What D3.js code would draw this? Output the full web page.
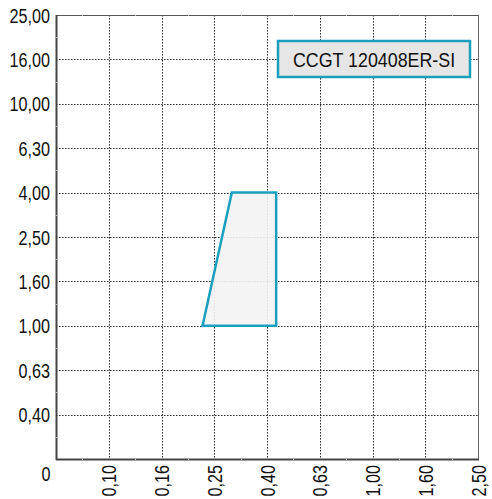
<!DOCTYPE html>
<html>
<head>
<meta charset="utf-8">
<script src="https://cdn.jsdelivr.net/npm/d3@7"></script>
<style>
  html, body { margin: 0; padding: 0; background: #fff; }
  svg { display: block; }
  text { font-family: "Liberation Sans", Arial, sans-serif; fill: #111; }
</style>
</head>
<body>
<svg id="chart" width="492" height="499"></svg>
<script>
// Feed rate f (mm/rev) grid values along the horizontal axis
const feedTicks = [0, 0.10, 0.16, 0.25, 0.40, 0.63, 1.00, 1.60, 2.50];
const feedLabels = ["0", "0,10", "0,16", "0,25", "0,40", "0,63", "1,00", "1,60", "2,50"];
// Depth of cut ap (mm) grid values along the vertical axis
const depthTicks = [0, 0.40, 0.63, 1.00, 1.60, 2.50, 4.00, 6.30, 10.00, 16.00, 25.00];
const depthLabels = ["0", "0,40", "0,63", "1,00", "1,60", "2,50", "4,00", "6,30", "10,00", "16,00", "25,00"];
// Application area of the chipbreaker (corner points)
const areaFeed = [0.23, 0.30, 0.44, 0.44];
const areaDepth = [1.00, 4.00, 4.00, 1.00];
const insertName = "CCGT 120408ER-SI";

const W = 492, H = 499;
const margin = { left: 56, right: 14, top: 15, bottom: 40 };
const x0 = margin.left, x1 = W - margin.right;
const y0 = H - margin.bottom, y1 = margin.top;

const svg = d3.select("#chart");
const teal = "#1aa0bd";
const FS = 21;        // label font size
const NARROW = 0.77;  // horizontal squeeze for a condensed look

// Piecewise scales: every grid value sits at an equal step
const x = d3.scaleLinear()
  .domain(feedTicks)
  .range(feedTicks.map((d, i) => x0 + (x1 - x0) * i / (feedTicks.length - 1)));
const y = d3.scaleLinear()
  .domain(depthTicks)
  .range(depthTicks.map((d, i) => y0 - (y0 - y1) * i / (depthTicks.length - 1)));

// Dotted grid
const grid = svg.append("g").attr("stroke", "#333").attr("stroke-width", 1)
  .attr("stroke-dasharray", "1.6,1.4").attr("fill", "none");
grid.selectAll("line.v").data(feedTicks.slice(1, -1)).join("line")
  .attr("x1", d => Math.round(x(d)) + 0.5).attr("x2", d => Math.round(x(d)) + 0.5)
  .attr("y1", y1).attr("y2", y0);
grid.selectAll("line.h").data(depthTicks.slice(1, -1)).join("line")
  .attr("x1", x0).attr("x2", x1)
  .attr("y1", d => Math.round(y(d)) + 0.5).attr("y2", d => Math.round(y(d)) + 0.5);

// Frame: light top/right, darker axes left/bottom
svg.append("line").attr("x1", x0).attr("x2", x1).attr("y1", y1 + 0.5).attr("y2", y1 + 0.5)
  .attr("stroke", "#555").attr("stroke-width", 1);
svg.append("line").attr("x1", x1 + 0.5).attr("x2", x1 + 0.5).attr("y1", y1).attr("y2", y0)
  .attr("stroke", "#666").attr("stroke-width", 1);
svg.append("line").attr("x1", x0).attr("x2", x1 + 1).attr("y1", y0 + 0.5).attr("y2", y0 + 0.5)
  .attr("stroke", "#444").attr("stroke-width", 2);
svg.append("line").attr("x1", x0 + 0.5).attr("x2", x0 + 0.5).attr("y1", y1).attr("y2", y0 + 1)
  .attr("stroke", "#444").attr("stroke-width", 2);

// Faint minor marks halfway between grid lines on the frame
const minorX = d3.range(feedTicks.length - 1).map(i => (x(feedTicks[i]) + x(feedTicks[i + 1])) / 2);
const minorY = d3.range(depthTicks.length - 1).map(i => (y(depthTicks[i]) + y(depthTicks[i + 1])) / 2);
const minor = svg.append("g").attr("stroke", "#bbb").attr("stroke-width", 1);
minor.selectAll("line.mb").data(minorX).join("line")
  .attr("x1", d => Math.round(d) + 0.5).attr("x2", d => Math.round(d) + 0.5)
  .attr("y1", y0 - 0.5).attr("y2", y0 + 1.5);
minor.selectAll("line.mt").data(minorX).join("line")
  .attr("x1", d => Math.round(d) + 0.5).attr("x2", d => Math.round(d) + 0.5)
  .attr("y1", y1).attr("y2", y1 + 1);
minor.selectAll("line.ml").data(minorY).join("line")
  .attr("x1", x0 - 0.5).attr("x2", x0 + 1.5)
  .attr("y1", d => Math.round(d) + 0.5).attr("y2", d => Math.round(d) + 0.5);

// Application area
const line = d3.line().x(d => x(d[0])).y(d => y(d[1]));
const pts = areaFeed.map((f, i) => [f, areaDepth[i]]);
svg.append("path").attr("d", line(pts) + "Z")
  .attr("fill", "#f3f3f3").attr("fill-opacity", 0.9)
  .attr("stroke", teal).attr("stroke-width", 2.5).attr("stroke-linejoin", "miter");

// Vertical axis labels
svg.append("g").selectAll("text").data(depthTicks.slice(1)).join("text")
  .attr("transform", d => `translate(${x0 - 6},${y(d)}) scale(${NARROW},1)`)
  .attr("dy", "0.36em").attr("text-anchor", "end")
  .attr("font-size", FS)
  .text((d, i) => depthLabels[i + 1]);

// Horizontal axis labels, rotated
svg.append("g").selectAll("text").data(feedTicks.slice(1)).join("text")
  .attr("transform", d => `translate(${x(d)},${y0 + 6}) rotate(-90) scale(${NARROW},1)`)
  .attr("dy", "0.36em").attr("text-anchor", "end")
  .attr("font-size", FS)
  .text((d, i) => feedLabels[i + 1]);

// Shared origin label
svg.append("text")
  .attr("transform", `translate(${x0 - 10},${y0 + 22}) scale(${NARROW},1)`)
  .attr("text-anchor", "middle").attr("font-size", FS).text(feedLabels[0]);

// Insert name box
const box = svg.append("g").attr("transform", "translate(278,41)");
box.append("rect").attr("width", 192).attr("height", 36)
  .attr("fill", "#e6e6e6").attr("stroke", teal).attr("stroke-width", 2.5);
box.append("text")
  .attr("transform", "translate(96,18) scale(0.85,1)")
  .attr("dy", "0.36em")
  .attr("text-anchor", "middle").attr("font-size", FS).text(insertName);
</script>
</body>
</html>
